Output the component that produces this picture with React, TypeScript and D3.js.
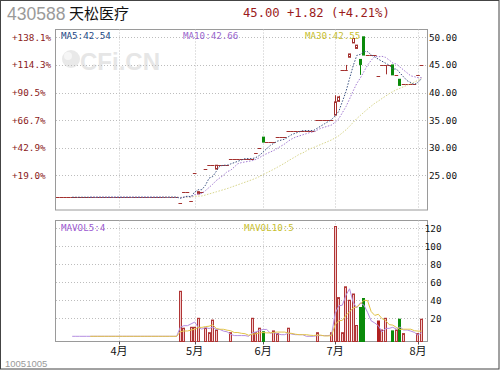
import React from "react";
import * as d3 from "d3";

// ---- header texts ----
const stockCode = "430588";
const stockName = "天松医疗";
const quoteText = "45.00 +1.82 (+4.21%)";
const footerText = "10051005";
const watermarkText = "CFi.CN";

// ---- axis data ----
const basePrice = 21.0; // reference price (% axis) and price before first trade
const dayCount = 103; // trading-day slots on the x axis
const monthLabels = ["4月", "5月", "6月", "7月", "8月"];
const monthStartIdx = [17, 38, 57, 77, 100];
const priceTicks = [50, 45, 40, 35, 30, 25];
const volTicks = [120, 100, 80, 60, 40, 20];

// ---- legends (values as printed) ----
const maLegend = ["MA5:42.54", "MA10:42.66", "MA30:42.55"];
const volLegend = ["MAVOL5:4", "MAVOL10:5"];

// ---- traded days (days without trade repeat previous close, volume 0) ----
const tradeIdx = [34, 35, 37, 38, 39, 41, 42, 43, 44, 48, 54, 55, 56, 57, 60, 61, 64, 72, 76, 77, 78, 79, 80, 81, 82, 83, 84, 85, 89, 90, 91, 93, 94, 95, 96, 100, 101];
const tradeOpen = [20.0, 22.0, 20.4, 25.4, 21.6, 26.1, 26.8, 26.8, 26.1, 28.0, 28.0, 29.0, 30.0, 31.9, 31.0, 31.9, 33.1, 35.1, 35.1, 35.9, 38.4, 44.1, 44.1, 46.4, 49.0, 48.0, 46.0, 50.1, 43.0, 45.0, 45.0, 45.0, 43.2, 42.4, 41.5, 43.18, 45.0];
const tradeHigh = [20.0, 22.0, 20.4, 25.4, 22.0, 26.1, 26.8, 26.8, 26.8, 28.0, 28.0, 29.0, 30.0, 31.9, 31.0, 31.9, 33.1, 35.1, 35.1, 39.5, 39.4, 44.1, 45.0, 47.0, 49.8, 48.6, 46.0, 50.1, 43.0, 45.0, 45.0, 45.0, 43.2, 42.4, 41.5, 43.18, 45.0];
const tradeLow = [20.0, 22.0, 20.4, 25.4, 21.6, 26.1, 26.8, 26.8, 26.1, 28.0, 28.0, 29.0, 30.0, 31.0, 31.0, 31.9, 33.1, 35.1, 35.1, 35.9, 38.3, 44.1, 44.1, 46.4, 49.0, 48.0, 43.2, 46.8, 43.0, 45.0, 43.3, 43.2, 43.2, 41.2, 41.5, 43.18, 45.0];
const tradeClose = [20.0, 22.0, 20.4, 25.4, 22.0, 26.1, 26.8, 26.8, 26.8, 28.0, 28.0, 29.0, 30.0, 31.0, 31.0, 31.9, 33.1, 35.1, 35.1, 38.3, 39.2, 44.1, 44.1, 47.0, 49.8, 48.6, 45.1, 46.8, 43.0, 45.0, 45.0, 43.2, 43.2, 41.3, 41.5, 43.18, 45.0];
const tradeVol = [50, 9, 10, 10, 20, 9, 4, 18, 7, 4, 20, 4, 9, 5, 6, 3, 9, 4, 4, 122, 43, 4, 55, 40, 47, 12, 32, 42, 17, 7, 20, 6, 7, 19, 3, 3, 19];
const tradeKind = ["u", "u", "u", "u", "u", "u", "u", "u", "u", "u", "u", "u", "u", "d", "u", "u", "u", "u", "u", "u", "u", "u", "u", "u", "u", "u", "d", "d", "s", "u", "u", "d", "u", "d", "u", "u", "u"];

type Day = { i: number; o: number; h: number; l: number; c: number; v: number; k: string; traded: boolean };

const lastIdx = tradeIdx[tradeIdx.length - 1];
const days: Day[] = [];
{
  let prev = basePrice;
  let t = 0;
  for (let i = 0; i <= lastIdx; i++) {
    if (tradeIdx[t] === i) {
      days.push({ i, o: tradeOpen[t], h: tradeHigh[t], l: tradeLow[t], c: tradeClose[t], v: tradeVol[t], k: tradeKind[t], traded: true });
      prev = tradeClose[t];
      t++;
    } else {
      days.push({ i, o: prev, h: prev, l: prev, c: prev, v: 0, k: "n", traded: false });
    }
  }
}

const movingAvg = (vals: number[], n: number): (number | null)[] =>
  vals.map((_, i) => (i < n - 1 ? null : (d3.mean(vals.slice(i - n + 1, i + 1)) as number)));

const RED = "#a3302e";
const GREEN = "#0a8a0a";
const mono = "'DejaVu Sans Mono', 'Liberation Mono', monospace";
const cjk = "'Noto Sans CJK SC', 'Noto Sans', sans-serif";
const sans = "'Liberation Sans', Arial, sans-serif";

export default function App() {
  const left = 56;
  const right = 427;
  const pTop = 29.5, pBottom = 210;
  const vTop = 220.5, vBottom = 341.5;

  const x = d3.scaleBand<number>().domain(d3.range(dayCount)).range([left, right]).padding(0);
  const bw = x.bandwidth();
  const cx = (i: number) => (x(i) as number) + bw / 2;
  const yP = d3.scaleLinear().domain([basePrice, 50]).range([197.2, 37.4]);
  const yV = d3.scaleLinear().domain([0, 120]).range([336.3, 228.3]);

  const closes = days.map((d) => d.c);
  const vols = days.map((d) => d.v);
  const ma5 = movingAvg(closes, 5);
  const ma10 = movingAvg(closes, 10);
  const ma30 = movingAvg(closes, 30);
  const mv5 = movingAvg(vols, 5);
  const mv10 = movingAvg(vols, 10);

  const lineP = d3
    .line<number | null>()
    .defined((d) => d != null)
    .x((_, i) => cx(i))
    .y((d) => yP(d as number));
  const lineV = d3
    .line<number | null>()
    .defined((d) => d != null)
    .x((_, i) => cx(i))
    .y((d) => yV(d as number));

  const r5 = (v: number) => Math.round(v) + 0.5;

  return (
    <svg
      width={500}
      height={370}
      style={{ position: "fixed", left: 0, top: 0, background: "#fff" }}
      xmlns="http://www.w3.org/2000/svg"
    >
      <rect x={0} y={0} width={500} height={370} fill="#fff" />
      <rect x={0.5} y={0.5} width={498.5} height={368.5} fill="none" stroke="#444" />

      {/* header */}
      <text x={7} y={20} fontFamily={sans} fontSize={17.5} fill="#9a9a9a">{stockCode}</text>
      <text x={69} y={19} fontFamily={cjk} fontSize={15} fill="#111">{stockName}</text>
      <text x={243} y={17} fontFamily={mono} fontSize={12.2} fill="#9b1b1b">{quoteText}</text>

      {/* watermark */}
      <circle cx={71} cy={59} r={9} fill="#e9e9e9" />
      <circle cx={68} cy={56} r={4} fill="#f6f6f6" />
      <text x={80} y={70} fontFamily={sans} fontWeight="bold" fontSize={24} fill="#e6e6e6">{watermarkText}</text>

      {/* panels */}
      <rect x={left - 0.5} y={pTop} width={right - left + 1} height={pBottom - pTop} fill="none" stroke="#9a9a9a" />
      <rect x={left - 0.5} y={vTop} width={right - left + 1} height={vBottom - vTop} fill="none" stroke="#9a9a9a" />

      {/* grid */}
      {priceTicks.map((t) => (
        <line key={"gp" + t} x1={left} x2={right} y1={r5(yP(t))} y2={r5(yP(t))} stroke="#bdbdbd" strokeDasharray="1,2" />
      ))}
      {volTicks.map((t) => (
        <line key={"gv" + t} x1={left} x2={right} y1={r5(yV(t))} y2={r5(yV(t))} stroke="#bdbdbd" strokeDasharray="1,2" />
      ))}
      {monthStartIdx.map((m) => (
        <g key={"gm" + m}>
          <line x1={r5(cx(m))} x2={r5(cx(m))} y1={pTop} y2={pBottom} stroke="#c4c4c4" strokeDasharray="1,2" />
          <line x1={r5(cx(m))} x2={r5(cx(m))} y1={vTop} y2={vBottom} stroke="#c4c4c4" strokeDasharray="1,2" />
          <line x1={r5(cx(m))} x2={r5(cx(m))} y1={vBottom} y2={vBottom + 3} stroke="#555" />
        </g>
      ))}

      {/* axis labels */}
      {priceTicks.map((t) => (
        <g key={"lp" + t}>
          <text x={429} y={yP(t) + 3.5} fontFamily={mono} fontSize={9.3} fill="#111">{t.toFixed(2)}</text>
          <text x={12} y={yP(t) + 3.5} fontFamily={mono} fontSize={9.3} fill="#8b1a1a">
            {"+" + ((t / basePrice - 1) * 100).toFixed(1) + "%"}
          </text>
        </g>
      ))}
      {volTicks.map((t) => (
        <text key={"lv" + t} x={441.5} y={yV(t) + 3.5} textAnchor="end" fontFamily={mono} fontSize={9.3} fill="#111">{t}</text>
      ))}
      {monthLabels.map((m, j) => (
        <text key={"ml" + m} x={cx(monthStartIdx[j])} y={354.5} textAnchor="middle" fontFamily={cjk} fontSize={11} fill="#111">{m}</text>
      ))}
      <text x={5} y={366.5} fontFamily={sans} fontSize={9.5} fill="#9a9a9a">{footerText}</text>

      {/* candles */}
      {days.map((d) => {
        const c = cx(d.i);
        const xb = Math.round(c - 1.5) + 0.5;
        if (d.o === d.c) {
          const col = d.k === "d" ? GREEN : RED;
          return (
            <g key={"c" + d.i}>
              {d.h > d.l && <line x1={r5(c)} x2={r5(c)} y1={yP(d.h)} y2={yP(d.l)} stroke={col} />}
              <line x1={x(d.i) as number} x2={(x(d.i) as number) + bw} y1={r5(yP(d.c))} y2={r5(yP(d.c))} stroke={col} />
            </g>
          );
        }
        const up = d.c > d.o;
        const col = up ? RED : GREEN;
        const top = yP(Math.max(d.o, d.c));
        const bot = yP(Math.min(d.o, d.c));
        return (
          <g key={"c" + d.i}>
            <line x1={r5(c)} x2={r5(c)} y1={yP(d.h)} y2={yP(d.l)} stroke={col} />
            <rect x={xb} y={top} width={2} height={Math.max(1, bot - top)} fill={up ? "#fff" : col} stroke={col} />
          </g>
        );
      })}

      {/* price MAs */}
      <path d={lineP(ma30) || ""} fill="none" stroke="#d8d68c" strokeDasharray="1.5,1.5" />
      <path d={lineP(ma10) || ""} fill="none" stroke="#a27ad2" strokeDasharray="1.5,1.5" />
      <path d={lineP(ma5) || ""} fill="none" stroke="#3a5282" strokeDasharray="1.5,1.5" />

      {/* volume bars */}
      {days
        .filter((d) => d.v > 0)
        .map((d) => {
          const c = cx(d.i);
          const xb = Math.round(c - 1.5) + 0.5;
          const y = yV(d.v);
          const fill = d.k === "d" ? GREEN : d.k === "s" ? "#b02020" : "#f3cccc";
          const stroke = d.k === "d" ? GREEN : d.k === "s" ? "#b02020" : "#b03535";
          return <rect key={"v" + d.i} x={xb} y={y} width={2} height={vBottom - y} fill={fill} stroke={stroke} />;
        })}
      <path d={lineV(mv5) || ""} fill="none" stroke="#b48ee0" />
      <path d={lineV(mv10) || ""} fill="none" stroke="#e2c448" />

      {/* legends */}
      <text x={61} y={39} fontFamily={mono} fontSize={9.2} fill="#1e4a86">{maLegend[0]}</text>
      <text x={183} y={39} fontFamily={mono} fontSize={9.2} fill="#9966cc">{maLegend[1]}</text>
      <text x={305} y={39} fontFamily={mono} fontSize={9.2} fill="#c8c030">{maLegend[2]}</text>
      <text x={61} y={231} fontFamily={mono} fontSize={9.2} fill="#9b59d0">{volLegend[0]}</text>
      <text x={244} y={231} fontFamily={mono} fontSize={9.2} fill="#c8c030">{volLegend[1]}</text>
    </svg>
  );
}
